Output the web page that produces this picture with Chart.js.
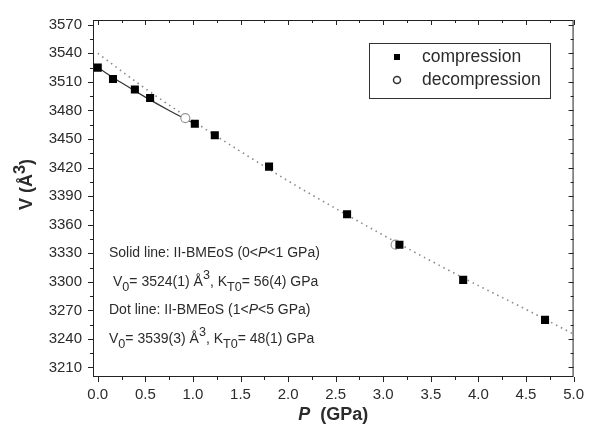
<!DOCTYPE html>
<html>
<head>
<meta charset="utf-8">
<script src="https://cdn.jsdelivr.net/npm/chart.js@4"></script>
<style>
  body { margin: 0; background: #fff; }
</style>
</head>
<body>
<canvas id="chart" width="593" height="432"></canvas>
<script>
// data
const compP = [0.00, 0.16, 0.39, 0.55, 1.02, 1.23, 1.80, 2.62, 3.17, 3.84, 4.70];
const compV = [3525, 3513, 3502, 3493, 3466, 3454, 3421, 3371, 3339, 3302, 3260];
const decompP = [0.92, 3.13];
const decompV = [3472, 3339];
const solidP = [0.00, 0.25, 0.50, 0.75, 1.00];
const solidV = [3525, 3509, 3494, 3480, 3467];
const dotP = [0.0, 0.5, 1.0, 1.5, 2.0, 2.5, 3.0, 3.5, 4.0, 4.5, 5.0];
const dotV = [3540, 3503, 3469, 3437, 3406, 3377, 3349, 3322, 3296, 3271, 3245];
const xTicks = [0.0, 0.5, 1.0, 1.5, 2.0, 2.5, 3.0, 3.5, 4.0, 4.5, 5.0];
const yTicks = [3210, 3240, 3270, 3300, 3330, 3360, 3390, 3420, 3450, 3480, 3510, 3540, 3570];

const FONT = "'Liberation Sans', Arial, sans-serif";
const TXT = '#2b2b2b';

const pts = (xs, ys) => xs.map((x, i) => ({ x: x, y: ys[i] }));

// draw text made of runs (normal / italic / sub / sup)
function drawRuns(ctx, x, y, runs, size) {
    ctx.textBaseline = 'alphabetic';
    ctx.textAlign = 'left';
    runs.forEach(r => {
        let s = size, dy = 0;
        if (r.sub) { s = size * 0.9; dy = 5; }
        if (r.sup) { s = size * 0.9; dy = -7; }
        ctx.font = (r.italic ? 'italic ' : '') + (r.bold ? 'bold ' : '') + s + 'px ' + FONT;
        ctx.fillText(r.t, x, y + dy);
        x += ctx.measureText(r.t).width;
    });
    return x;
}

const framePlugin = {
    id: 'frame',
    beforeDatasetsDraw(chart) {
        const { ctx, chartArea: a, scales } = chart;
        const xs = scales.x, ys = scales.y;
        ctx.save();
        ctx.strokeStyle = '#222';
        ctx.lineWidth = 1;
        ctx.strokeRect(a.left + 0.5, a.top + 0.5, a.right - a.left - 1, a.bottom - a.top - 1);
        ctx.beginPath();
        // x ticks: every 0.25, major every 0.5
        for (let i = 0; i <= 20; i++) {
            const px = Math.round(xs.getPixelForValue(i * 0.25)) + 0.5;
            const len = i % 2 === 0 ? 5 : 3;
            ctx.moveTo(px, a.bottom); ctx.lineTo(px, a.bottom + len);
            ctx.moveTo(px, a.top); ctx.lineTo(px, a.top + len);
        }
        // y ticks: every 15, major every 30
        for (let v = 3210; v <= 3570; v += 15) {
            const py = Math.round(ys.getPixelForValue(v)) + 0.5;
            const len = (v - 3210) % 30 === 0 ? 5 : 3;
            ctx.moveTo(a.left, py); ctx.lineTo(a.left - len, py);
            ctx.moveTo(a.right, py); ctx.lineTo(a.right - len, py);
        }
        ctx.stroke();
        ctx.restore();
    },
    afterDraw(chart) {
        const { ctx, chartArea: a } = chart;
        ctx.save();
        ctx.fillStyle = TXT;

        // axis titles
        ctx.font = 'bold italic 18px ' + FONT;
        let w1 = ctx.measureText('P').width;
        ctx.font = 'bold 18px ' + FONT;
        let w2 = ctx.measureText('  (GPa)').width;
        let cx = (a.left + a.right) / 2 - (w1 + w2) / 2;
        drawRuns(ctx, cx, 420, [{ t: 'P', italic: true, bold: true }, { t: '  (GPa)', bold: true }], 18);

        ctx.save();
        ctx.translate(32, 178);
        ctx.rotate(-Math.PI / 2);
        drawRuns(ctx, -32, 0, [{ t: 'V', bold: true }, { t: ' (Å', bold: true },
            { t: '3', bold: true, sup: true }, { t: ')', bold: true }], 18);
        ctx.restore();

        // fit annotations
        drawRuns(ctx, 109, 257, [{ t: 'Solid line: II-BMEoS (0<' }, { t: 'P', italic: true }, { t: '<1 GPa)' }], 14);
        drawRuns(ctx, 113, 286, [{ t: 'V' }, { t: '0', sub: true }, { t: '= 3524(1) Å' }, { t: '3', sup: true },
            { t: ', K' }, { t: 'T0', sub: true }, { t: '= 56(4) GPa' }], 14);
        drawRuns(ctx, 109, 314, [{ t: 'Dot line: II-BMEoS (1<' }, { t: 'P', italic: true }, { t: '<5 GPa)' }], 14);
        drawRuns(ctx, 109, 343, [{ t: 'V' }, { t: '0', sub: true }, { t: '= 3539(3) Å' }, { t: '3', sup: true },
            { t: ', K' }, { t: 'T0', sub: true }, { t: '= 48(1) GPa' }], 14);

        // legend box
        ctx.strokeStyle = '#333';
        ctx.lineWidth = 1;
        ctx.strokeRect(369.5, 43.5, 181, 55);
        ctx.fillStyle = '#000';
        ctx.fillRect(394, 54, 6, 6);
        ctx.beginPath();
        ctx.arc(397, 80, 3.5, 0, Math.PI * 2);
        ctx.lineWidth = 1.5;
        ctx.stroke();
        ctx.fillStyle = TXT;
        ctx.font = '17.5px ' + FONT;
        ctx.textBaseline = 'middle';
        ctx.fillText('compression', 422, 57);
        ctx.fillText('decompression', 422, 80);
        ctx.restore();
    }
};

const ctx = document.getElementById('chart').getContext('2d');
new Chart(ctx, {
    type: 'scatter',
    data: {
        datasets: [
            {
                label: 'compression',
                data: pts(compP, compV),
                pointStyle: 'rect',
                pointRadius: 5.7,
                backgroundColor: '#000',
                borderColor: '#000',
                borderWidth: 0
            },
            {
                label: 'decompression',
                data: pts(decompP, decompV),
                pointStyle: 'circle',
                pointRadius: 4.5,
                backgroundColor: '#fff',
                borderColor: '#999',
                borderWidth: 1.2
            },
            {
                label: 'solid fit',
                data: pts(solidP, solidV),
                showLine: true,
                pointRadius: 0,
                borderColor: '#333',
                borderWidth: 1.2,
                tension: 0.3
            },
            {
                label: 'dot fit',
                data: pts(dotP, dotV),
                showLine: true,
                pointRadius: 0,
                borderColor: '#888',
                borderWidth: 1.6,
                borderDash: [1.5, 4],
                cubicInterpolationMode: 'monotone'
            }
        ]
    },
    options: {
        responsive: false,
        animation: false,
        layout: { padding: { top: 18, right: 11, bottom: 0, left: 0 } },
        plugins: {
            legend: { display: false },
            tooltip: { enabled: false }
        },
        scales: {
            x: {
                type: 'linear',
                min: -0.05,
                max: 5.0,
                afterBuildTicks: s => { s.ticks = xTicks.map(v => ({ value: v })); },
                afterFit: s => { s.height = 55; },
                grid: { display: false, drawTicks: false },
                border: { display: false },
                ticks: {
                    padding: 9,
                    color: TXT,
                    font: { family: FONT, size: 15 },
                    callback: v => v.toFixed(1)
                }
            },
            y: {
                type: 'linear',
                min: 3200,
                max: 3575,
                afterBuildTicks: s => { s.ticks = yTicks.map(v => ({ value: v })); },
                afterFit: s => { s.width = 93; },
                grid: { display: false, drawTicks: false },
                border: { display: false },
                ticks: {
                    padding: 11,
                    color: TXT,
                    font: { family: FONT, size: 15 },
                    callback: v => String(v)
                }
            }
        }
    },
    plugins: [framePlugin]
});
</script>
</body>
</html>
